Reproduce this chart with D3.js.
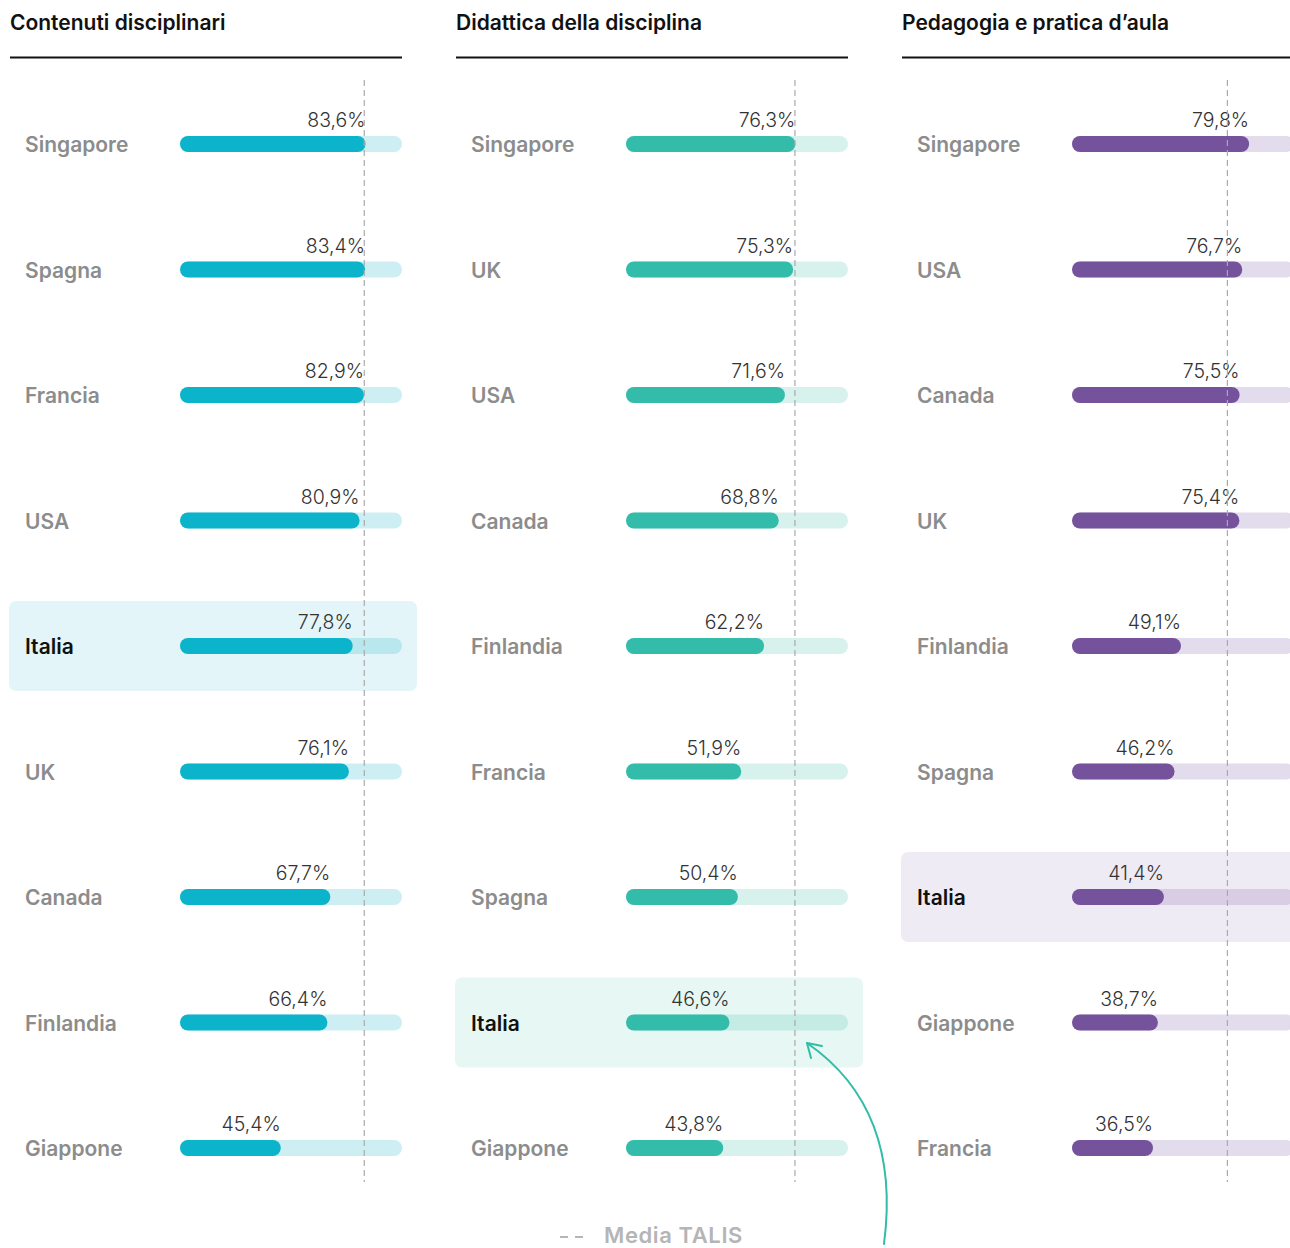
<!DOCTYPE html>
<html><head><meta charset="utf-8">
<script src="https://cdn.jsdelivr.net/npm/d3@7"></script>
<style>
html,body{margin:0;padding:0;background:#fff;}
svg{display:block;font-family:Inter,"Noto Sans",sans-serif;}
</style></head>
<body><svg id="c" width="1290" height="1248"></svg>
<script>
const titles = ["Contenuti disciplinari","Didattica della disciplina","Pedagogia e pratica d\u2019aula"];
const countries1 = ["Singapore","Spagna","Francia","USA","Italia","UK","Canada","Finlandia","Giappone"];
const values1 = [83.6,83.4,82.9,80.9,77.8,76.1,67.7,66.4,45.4];
const countries2 = ["Singapore","UK","USA","Canada","Finlandia","Francia","Spagna","Italia","Giappone"];
const values2 = [76.3,75.3,71.6,68.8,62.2,51.9,50.4,46.6,43.8];
const countries3 = ["Singapore","USA","Canada","UK","Finlandia","Spagna","Italia","Giappone","Francia"];
const values3 = [79.8,76.7,75.5,75.4,49.1,46.2,41.4,38.7,36.5];
const talisAvg = [83.0,76.1,70.0];
const highlight = "Italia";
const legendLabel = "Media TALIS";

const palettes = [
  {bar:"#0bb4cb", track:"#cdeef3", hlBg:"#e3f5f8", hlTrack:"#b9e7ee"},
  {bar:"#33bcaa", track:"#d7f1ec", hlBg:"#e7f7f3", hlTrack:"#c4ebe4"},
  {bar:"#74529c", track:"#e3dcec", hlBg:"#efebf4", hlTrack:"#d8cde4"}
];

const panels = [
  {countries:countries1, values:values1},
  {countries:countries2, values:values2},
  {countries:countries3, values:values3}
];

const svg = d3.select("#c");
const panelX = d3.scalePoint().domain([0,1,2]).range([10,902]);
const barH = 16;

panels.forEach((p,i)=>{
  const x0 = panelX(i);
  const pal = palettes[i];
  const g = svg.append("g").attr("transform",`translate(${x0},0)`);
  const x = d3.scaleLinear().domain([0,100]).range([170,392]);
  const y = d3.scalePoint().domain(p.countries).range([144,1148]);

  g.append("text").attr("x",0).attr("y",30).text(titles[i])
    .attr("font-size",21).attr("font-weight",600).attr("fill","#111");
  g.append("line").attr("x1",0).attr("x2",392).attr("y1",57.5).attr("y2",57.5)
    .attr("stroke","#111").attr("stroke-width",2);

  // highlight box
  g.append("rect").attr("x",-1).attr("y",y(highlight)-45).attr("width",408).attr("height",90)
    .attr("rx",7).attr("fill",pal.hlBg);

  const rows = g.selectAll("g.row").data(p.countries.map((c,k)=>({c, v:p.values[k]})))
    .join("g").attr("class","row");

  rows.append("rect").attr("x",x(0)).attr("y",d=>y(d.c)-barH/2)
    .attr("width",x(100)-x(0)).attr("height",barH).attr("rx",barH/2)
    .attr("fill",d=>d.c===highlight?pal.hlTrack:pal.track);
  rows.append("rect").attr("x",x(0)).attr("y",d=>y(d.c)-barH/2)
    .attr("width",d=>x(d.v)-x(0)).attr("height",barH).attr("rx",barH/2)
    .attr("fill",pal.bar);
  rows.append("text").attr("x",15).attr("y",d=>y(d.c)+8)
    .text(d=>d.c).attr("font-size",21)
    .attr("font-weight",600)
    .attr("fill",d=>d.c===highlight?"#111":"#8c8c8c");
  rows.append("text").attr("x",d=>x(d.v)).attr("y",d=>y(d.c)-17)
    .attr("text-anchor","end").text(d=>d3.format(".1f")(d.v).replace(".",",")+"%")
    .attr("font-size",19.5).attr("font-weight",300).attr("fill","#333");

  g.append("line").attr("x1",x(talisAvg[i])).attr("x2",x(talisAvg[i]))
    .attr("y1",80).attr("y2",1182).attr("stroke","#aaa").attr("stroke-width",1.2)
    .attr("stroke-dasharray","6,4");
});

// legend
svg.append("line").attr("x1",560).attr("x2",588).attr("y1",1237).attr("y2",1237)
  .attr("stroke","#b5b5b5").attr("stroke-width",2).attr("stroke-dasharray","8,7");
svg.append("text").attr("x",604).attr("y",1243).text(legendLabel)
  .attr("font-size",22).attr("letter-spacing",0.6).attr("font-weight",600).attr("fill","#b5b5b5");

// arrow
svg.append("path").attr("d","M884,1244 C895,1160 875,1090 807,1043")
  .attr("fill","none").attr("stroke","#33bcaa").attr("stroke-width",2).attr("stroke-linecap","round");
svg.append("path").attr("d","M822,1046 L807,1043 L811,1058")
  .attr("fill","none").attr("stroke","#33bcaa").attr("stroke-width",2)
  .attr("stroke-linecap","round").attr("stroke-linejoin","round");
</script></body></html>
